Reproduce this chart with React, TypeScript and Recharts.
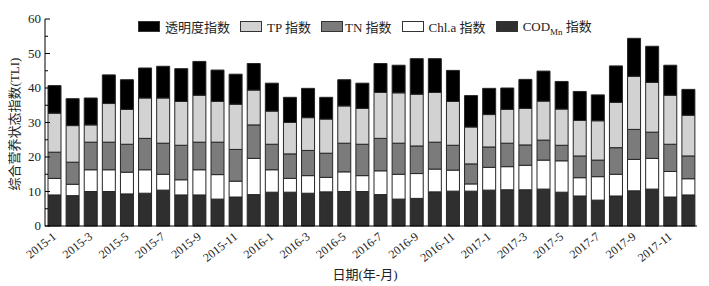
import { BarChart, Bar, XAxis, YAxis } from "recharts";

const months = [
  "2015-1", "2015-2", "2015-3", "2015-4", "2015-5", "2015-6", "2015-7", "2015-8", "2015-9", "2015-10", "2015-11", "2015-12",
  "2016-1", "2016-2", "2016-3", "2016-4", "2016-5", "2016-6", "2016-7", "2016-8", "2016-9", "2016-10", "2016-11", "2016-12",
  "2017-1", "2017-2", "2017-3", "2017-4", "2017-5", "2017-6", "2017-7", "2017-8", "2017-9", "2017-10", "2017-11", "2017-12",
];

const codMn = [9.0, 8.8, 10.0, 10.0, 9.3, 9.5, 10.4, 9.0, 9.0, 7.8, 8.4, 9.1, 9.8, 9.8, 9.5, 9.9, 10.0, 10.0, 9.1, 7.8, 8.0, 9.9, 10.1, 10.1, 10.4, 10.5, 10.5, 10.7, 9.8, 8.7, 7.5, 8.7, 10.2, 10.7, 8.4, 9.0];
const chla = [4.8, 3.3, 6.3, 6.3, 6.3, 6.8, 4.6, 4.4, 7.3, 7.1, 4.6, 10.5, 6.5, 4.0, 5.1, 4.2, 5.7, 4.6, 6.9, 7.2, 7.2, 6.6, 6.1, 2.1, 6.6, 6.7, 7.1, 8.4, 9.1, 5.3, 6.8, 6.3, 9.1, 8.9, 7.4, 4.7];
const tn = [7.6, 6.4, 8.0, 8.0, 8.1, 9.1, 9.0, 10.0, 8.0, 9.4, 9.2, 9.7, 7.4, 7.1, 7.3, 7.0, 8.3, 9.1, 9.4, 9.0, 8.0, 7.8, 7.2, 5.8, 5.9, 6.8, 5.9, 5.8, 4.5, 6.3, 4.8, 7.7, 8.7, 7.6, 7.9, 6.6];
const tp = [11.3, 10.6, 5.0, 11.2, 10.1, 11.7, 13.1, 12.7, 13.6, 11.8, 13.1, 10.1, 9.6, 9.1, 9.5, 9.9, 10.8, 10.4, 13.3, 14.6, 15.0, 14.4, 12.7, 10.7, 9.4, 9.8, 10.6, 11.3, 10.5, 10.3, 11.4, 13.1, 15.4, 14.4, 14.2, 11.8];
const sd = [8.0, 7.8, 7.8, 8.3, 8.6, 8.7, 9.2, 9.5, 9.8, 9.1, 8.7, 7.7, 8.1, 7.3, 8.5, 6.3, 7.6, 7.3, 8.4, 8.0, 10.3, 9.8, 9.0, 9.1, 7.6, 6.2, 8.4, 8.7, 8.0, 8.4, 7.5, 10.6, 11.0, 10.5, 8.7, 7.5];

const yTicks = [0, 5, 10, 15, 20, 25, 30, 35, 40, 45, 50, 55, 60];

const data = months.map((m, i) => ({
  month: m,
  cod: codMn[i],
  chla: chla[i],
  tn: tn[i],
  tp: tp[i],
  sd: sd[i],
}));

const serif = '"Liberation Serif", "Times New Roman", serif';
const cjk = '"Liberation Serif", "Noto Sans CJK SC", serif';
const stroke = "#262626";

const legendItems = [
  { key: "sd", label: "透明度指数", color: "#000000" },
  { key: "tp", label: "TP 指数", color: "#d2d2d2" },
  { key: "tn", label: "TN 指数", color: "#7b7b7b" },
  { key: "chla", label: "Chl.a 指数", color: "#ffffff" },
  { key: "cod", label: "COD", color: "#2f2f2f" },
];

function YTick({ x, y, payload }: any) {
  const major = payload.value % 10 === 0;
  return (
    <g>
      <line x1={x + 8} x2={x + 8 + (major ? 5 : 3)} y1={y} y2={y} stroke="#000" />
      {major && (
        <text x={x + 4} y={y + 4} textAnchor="end" fontSize={13} fontFamily={serif} fill="#222">
          {payload.value}
        </text>
      )}
    </g>
  );
}

function XTick({ x, y, payload, index }: any) {
  if (index % 2 !== 0) return null;
  return (
    <text
      x={x + 3}
      y={y + 4}
      transform={`rotate(-38 ${x + 3} ${y + 4})`}
      textAnchor="end"
      fontSize={12}
      fontFamily={serif}
      fill="#222"
    >
      {payload.value}
    </text>
  );
}

export default function App() {
  return (
    <div style={{ position: "absolute", left: 0, top: 0, width: 709, height: 286, background: "#fff" }}>
      <BarChart width={709} height={286} data={data} margin={{ top: 19, right: 12, left: 8, bottom: 0 }} barSize={13}>
        <XAxis
          dataKey="month"
          interval={0}
          tick={<XTick />}
          tickLine={false}
          axisLine={{ stroke: "#000" }}
          height={60}
        />
        <YAxis
          domain={[0, 60]}
          ticks={yTicks}
          interval={0}
          tick={<YTick />}
          tickLine={false}
          axisLine={{ stroke: "#000" }}
          width={37}
        />
        <Bar dataKey="cod" stackId="a" fill="#2f2f2f" stroke={stroke} isAnimationActive={false} />
        <Bar dataKey="chla" stackId="a" fill="#ffffff" stroke={stroke} isAnimationActive={false} />
        <Bar dataKey="tn" stackId="a" fill="#7b7b7b" stroke={stroke} isAnimationActive={false} />
        <Bar dataKey="tp" stackId="a" fill="#d2d2d2" stroke={stroke} isAnimationActive={false} />
        <Bar dataKey="sd" stackId="a" fill="#000000" stroke={stroke} isAnimationActive={false} />
      </BarChart>

      <div
        style={{
          position: "absolute",
          left: 138,
          top: 16,
          display: "flex",
          alignItems: "center",
          fontFamily: cjk,
          fontSize: 13,
          color: "#222",
          whiteSpace: "nowrap",
        }}
      >
        {legendItems.map((it) => (
          <div key={it.key} style={{ display: "flex", alignItems: "center", marginRight: 10 }}>
            <span
              style={{
                display: "inline-block",
                width: 20,
                height: 9,
                background: it.color,
                border: "1px solid #333",
                marginRight: it.key === "tn" ? 2 : 5,
              }}
            />
            {it.key === "cod" ? (
              <span>
                COD<sub style={{ fontSize: 9 }}>Mn</sub> 指数
              </span>
            ) : (
              <span>{it.label}</span>
            )}
          </div>
        ))}
      </div>

      <div
        style={{
          position: "absolute",
          left: 13,
          top: 124,
          transform: "translate(-50%, -50%) rotate(-90deg)",
          fontFamily: cjk,
          fontSize: 13,
          color: "#222",
          whiteSpace: "nowrap",
        }}
      >
        综合营养状态指数(TLI)
      </div>

      <div
        style={{
          position: "absolute",
          left: 365,
          top: 273,
          transform: "translate(-50%, -50%)",
          fontFamily: cjk,
          fontSize: 13,
          color: "#222",
          whiteSpace: "nowrap",
        }}
      >
        日期(年-月)
      </div>
    </div>
  );
}
